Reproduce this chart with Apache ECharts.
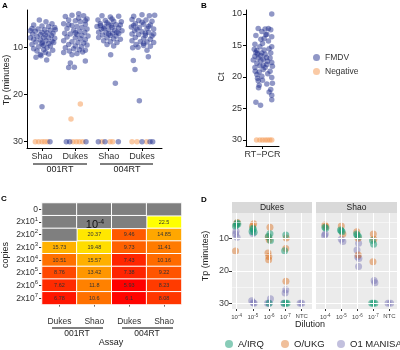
<!DOCTYPE html>
<html>
<head>
<meta charset="utf-8">
<title>fmdv lamp</title>
<script src="https://cdn.jsdelivr.net/npm/echarts@6/dist/echarts.min.js"></script>
<style>html,body{margin:0;padding:0;background:#fff}#main{width:400px;height:350px}</style>
</head>
<body>
<div id="main"></div>
<script>
// ---- panel A : jitter offset from group centre, Tp value
const groupsA = ['Shao', 'Dukes', 'Shao', 'Dukes'];
const aShao001Pos = [[-0.08,4.2],[0.12,4.6],[0.3,5.0],[-0.25,5.3],[0.0,5.5],[0.2,5.6],[0.38,5.8],[-0.3,6.0],[-0.12,6.1],[0.08,6.3],[0.25,6.4],[-0.2,6.6],[0.0,6.8],[0.15,6.9],[0.33,7.0],[-0.28,7.2],[-0.05,7.3],[0.1,7.4],[0.28,7.5],[-0.15,7.7],[0.05,7.9],[0.2,8.0],[0.38,8.1],[-0.25,8.3],[-0.05,8.4],[0.12,8.6],[0.3,8.7],[-0.18,8.9],[0.0,9.0],[0.2,9.2],[-0.3,9.4],[0.05,9.6],[0.25,9.7],[-0.1,9.9],[0.15,10.1],[-0.25,10.3],[0.05,10.5],[0.32,10.6],[-0.15,10.8],[0.1,11.1],[-0.05,11.5],[0.2,11.4],[-0.18,12.1],[-0.03,11.8],[0.14,12.7],[0.0,9.3],[-0.35,8.0],[0.35,9.0],[0.4,6.3],[-0.35,6.5],[0.0,22.6],[0.24,30]];
const aShao001Neg = [[-0.2,30],[-0.1,30],[0.0,30],[0.08,30],[0.16,30]];
const aDukes001Pos = [[-0.3,3.5],[-0.1,3.2],[0.1,2.9],[0.25,3.3],[0.35,4.0],[-0.2,4.2],[0.0,4.4],[0.15,4.6],[-0.35,5.0],[0.3,5.1],[-0.1,5.4],[0.05,5.6],[0.2,5.8],[-0.25,6.0],[0.35,6.1],[-0.05,6.4],[0.12,6.6],[0.28,6.8],[-0.32,7.0],[-0.15,7.2],[0.05,7.3],[0.2,7.5],[0.38,7.6],[-0.25,7.8],[0.0,8.0],[0.15,8.2],[0.3,8.4],[-0.35,8.6],[-0.1,8.8],[0.08,9.0],[0.25,9.1],[-0.2,9.4],[0.35,9.5],[0.0,9.7],[0.18,9.9],[-0.3,10.1],[-0.05,10.3],[0.12,10.5],[0.3,10.6],[-0.18,10.8],[0.22,11.0],[-0.35,11.1],[0.05,11.3],[-0.1,11.6],[0.0,6.9],[-0.2,5.2],[0.3,4.4],[0.1,3.8],[-0.15,13.3],[-0.2,14.3],[-0.03,14.2],[0.3,12.9],[-0.27,30],[-0.17,30],[0.32,30]];
const aDukes001Neg = [[-0.13,25.2],[0.15,22.0],[-0.07,30],[0.03,30],[0.12,30],[0.22,30]];
const aShao004Pos = [[-0.2,3.3],[0.05,3.6],[0.3,3.4],[-0.32,4.2],[-0.1,4.3],[0.15,4.5],[0.38,4.6],[-0.25,5.0],[0.0,5.1],[0.22,5.2],[-0.35,5.6],[-0.12,5.7],[0.1,5.8],[0.3,5.9],[-0.22,6.2],[0.0,6.3],[0.18,6.4],[0.4,6.5],[-0.3,6.8],[-0.08,6.9],[0.12,7.0],[0.3,7.1],[-0.18,7.4],[0.05,7.5],[0.22,7.6],[-0.3,7.9],[-0.05,8.0],[0.15,8.2],[0.35,8.3],[-0.15,8.6],[0.05,8.8],[0.25,9.0],[-0.05,9.4],[0.15,9.7],[0.08,5.4],[-0.15,6.0],[0.25,6.8],[0.0,7.2],[-0.25,5.4],[0.35,5.3],[0.1,4.0],[-0.05,4.8],[0.06,11.6],[0.2,17.6],[-0.31,30],[-0.11,30],[0.29,30]];
const aShao004Neg = [[-0.2,30],[0.04,30],[0.12,30]];
const aDukes004Pos = [[-0.25,3.4],[0.0,3.1],[0.22,3.3],[0.38,3.2],[-0.3,4.1],[-0.1,4.3],[0.12,4.2],[0.3,4.5],[-0.2,5.0],[0.05,5.1],[0.25,5.3],[-0.32,5.7],[-0.08,5.8],[0.15,6.0],[0.35,6.1],[-0.22,6.5],[0.0,6.7],[0.2,6.8],[-0.3,7.2],[-0.1,7.3],[0.1,7.5],[0.3,7.6],[-0.2,7.9],[0.05,8.1],[0.25,8.3],[-0.3,8.6],[-0.05,8.8],[0.15,8.9],[0.35,9.0],[-0.18,9.4],[0.05,9.6],[0.25,9.8],[-0.28,10.1],[0.15,10.6],[-0.12,10.0],[0.0,4.7],[0.2,5.6],[-0.15,6.2],[0.1,7.0],[-0.25,5.4],[0.35,7.2],[0.05,9.2],[-0.26,12.8],[-0.21,14.7],[0.19,12.0],[-0.08,21.3],[0.0,30],[0.24,30],[0.32,30]];
const aDukes004Neg = [[-0.3,30],[-0.15,30],[0.14,30]];

// ---- panel B : x jitter (0..1), Ct
const bFmdv = [[0.78,10.0],[0.37,12.3],[0.48,12.8],[0.58,12.4],[0.68,12.3],[0.75,12.5],[0.3,13.4],[0.63,13.2],[0.78,13.6],[0.55,13.9],[0.68,14.3],[0.27,14.8],[0.42,15.2],[0.78,15.2],[0.33,15.8],[0.48,16.2],[0.58,16.4],[0.27,16.7],[0.37,17.0],[0.52,17.2],[0.73,17.0],[0.78,17.7],[0.33,17.8],[0.42,18.2],[0.63,18.0],[0.27,18.5],[0.52,18.8],[0.73,19.1],[0.33,19.6],[0.48,19.9],[0.78,20.1],[0.37,20.6],[0.63,21.1],[0.75,22.0],[0.7,22.4],[0.78,22.9],[0.78,23.6],[0.3,24.0],[0.44,24.5],[0.4,21.3],[0.38,21.7],[0.25,15.6],[0.35,16.3],[0.45,17.4],[0.55,15.7],[0.62,16.9],[0.7,15.5],[0.4,19.2],[0.28,19.1],[0.58,18.5],[0.66,19.5],[0.8,18.3],[0.5,14.7],[0.3,16.1],[0.44,16.6],[0.52,18.1],[0.75,16.2],[0.8,21.0],[0.35,20.2],[0.5,20.5],[0.6,13.3],[0.45,14.0],[0.65,17.5],[0.22,17.3]];
const bNeg = [[0.32,30],[0.42,30],[0.5,30],[0.58,30],[0.65,30],[0.72,30],[0.78,30]];

// ---- panel C : heatmap, rows 0, 2x10^1 .. 2x10^7 ; null = grey
const heatCols = ['Dukes', 'Shao', 'Dukes', 'Shao'];
const heatRows = ['0', '1', '2', '3', '4', '5', '6', '7'];
const heatDukes001 = [null, null, null, 15.73, 10.51, 8.76, 7.62, 6.78];
const heatShao001 = [null, null, 20.37, 19.48, 15.57, 13.42, 11.8, 10.6];
const heatDukes004 = [null, null, 9.46, 9.73, 7.43, 7.38, 5.93, 6.1];
const heatShao004 = [null, 22.5, 14.85, 11.41, 10.16, 9.22, 8.23, 8.08];

// ---- panel D : [dilution position (1..5 jittered), Tp]
const dilutions = ['-4', '-5', '-6', '-7', 'NTC'];
const dDukesIRQ = [[1.0,5.9],[0.93,6.2],[1.08,5.6],[1.03,5.3],[2.02,7.2],[1.95,7.9],[2.08,8.1],[2.0,6.9],[3.05,8.6],[2.95,9.4],[3.08,10.7],[4.02,9.0],[3.95,13.8],[3.92,30],[4.02,30],[4.1,30],[3.0,30]];
const dDukesUKG = [[1.05,5.1],[0.98,5.6],[0.94,13.9],[2.05,5.5],[1.98,6.3],[3.05,6.6],[2.95,9.6],[3.0,10.4],[2.93,14.5],[2.98,15.6],[2.97,16.6],[4.05,9.9],[4.02,13.1],[4.03,23.2]];
const dDukesMAN = [[0.97,7.8],[0.94,8.7],[1.03,9.7],[2.0,8.5],[1.93,29.2],[2.02,29.8],[2.08,30],[2.9,30],[3.0,30],[3.08,28.6],[4.02,25.8],[3.98,26.8],[3.9,30],[4.9,30],[5.0,30]];
const dShaoIRQ = [[1.03,6.9],[0.97,6.6],[1.95,7.4],[2.05,8.0],[2.0,7.7],[3.0,9.0],[3.08,9.5],[2.95,8.7],[3.95,10.7],[4.02,11.8],[3.9,30],[4.0,30],[4.1,30]];
const dShaoUKG = [[0.98,5.9],[1.04,6.4],[2.0,6.2],[2.1,8.7],[2.97,8.0],[3.05,10.0],[3.06,15.1],[4.0,8.7],[3.98,17.2],[4.03,10.3]];
const dShaoMAN = [[1.0,8.7],[0.95,9.1],[2.0,10.3],[2.1,11.0],[3.08,11.5],[2.98,13.6],[3.1,16.2],[3.02,15.7],[3.08,18.7],[4.05,23.0],[4.1,23.7],[4.92,30],[5.08,30]];

const FONT = 'Liberation Sans, Arial, sans-serif';
const BLUE = 'rgba(30,45,140,0.62)';
const ORANGE = 'rgba(246,160,95,0.7)';
const GREEN = 'rgba(27,158,119,0.65)';
const DORANGE = 'rgba(217,95,2,0.5)';
const PURPLE = 'rgba(117,112,179,0.55)';

function place(rows, centre) {
    return rows.map(p => [centre + p[0], p[1]]);
}

const sup = { fontSize: 6, fontFamily: FONT, color: '#333', verticalAlign: 'bottom', padding: [0, 0, 6, 0] };

let chart = echarts.init(document.getElementById('main'));

// group A points by category
const aPos = [aShao001Pos, aDukes001Pos, aShao004Pos, aDukes004Pos];
const aNeg = [aShao001Neg, aDukes001Neg, aShao004Neg, aDukes004Neg];
let aPosData = [], aNegData = [];
for (let i = 0; i < 4; i++) {
    aPosData = aPosData.concat(place(aPos[i], i + 1));
    aNegData = aNegData.concat(place(aNeg[i], i + 1));
}

// heatmap cells
const heatData = [], greyData = [];
[heatDukes001, heatShao001, heatDukes004, heatShao004].forEach((col, c) => {
    col.forEach((v, r) => {
        if (v === null) greyData.push([c, r, 0]);
        else heatData.push([c, r, v]);
    });
});

const classicAxis = { show: true, lineStyle: { color: '#000', width: 1 }, onZero: false };
const blackTick = { show: true, length: 3, lineStyle: { color: '#000' } };

function dXAxis(idx, min, max) {
    return {
        gridIndex: idx, type: 'value', min: min, max: max,
        axisLine: { show: false }, splitLine: { show: false },
        axisTick: { show: true, length: 2, lineStyle: { color: '#333' }, customValues: [1, 2, 3, 4, 5] },
        axisLabel: {
            customValues: [1, 2, 3, 4, 5], margin: 4,
            formatter: v => dilutions[v - 1] === 'NTC' ? '{n|NTC}' : '{n|10}{s|' + dilutions[v - 1] + '}',
            rich: { n: { fontSize: 6, fontFamily: FONT, color: '#444' }, s: { fontSize: 4.5, fontFamily: FONT, color: '#444', verticalAlign: 'bottom', padding: [0, 0, 4, 0] } }
        }
    };
}
function dYAxis(idx, labels) {
    return {
        gridIndex: idx, type: 'value', inverse: true, min: 2.2, max: 31.75,
        axisLine: { show: false }, splitLine: { show: false },
        axisTick: { show: labels, length: 3, lineStyle: { color: '#333' }, customValues: [10, 20, 30] },
        axisLabel: { show: labels, customValues: [10, 20, 30], fontSize: 9, color: '#444', fontFamily: FONT, margin: 3 }
    };
}
function gridLines(xi) {
    return {
        type: 'scatter', xAxisIndex: xi, yAxisIndex: xi, data: [], z: 1, silent: true,
        markLine: {
            silent: true, symbol: ['none', 'none'], animation: false, label: { show: false },
            lineStyle: { color: '#fff', type: 'solid', width: 1 },
            data: [
                { yAxis: 5, lineStyle: { width: 0.5 } }, { yAxis: 15, lineStyle: { width: 0.5 } }, { yAxis: 25, lineStyle: { width: 0.5 } },
                { yAxis: 10 }, { yAxis: 20 }, { yAxis: 30 },
                { xAxis: 1 }, { xAxis: 2 }, { xAxis: 3 }, { xAxis: 4 }, { xAxis: 5 }
            ]
        }
    };
}
function dSeries(name, data, color, xi) {
    return { name: name, type: 'scatter', xAxisIndex: xi, yAxisIndex: xi, data: data, symbolSize: 7, z: 3, itemStyle: { color: color } };
}
function dLegend(name, left) {
    return {
        data: [name], left: left, top: 339, padding: 0, itemWidth: 8, itemHeight: 8, icon: 'circle', selectedMode: false,
        textStyle: { fontSize: 9.5, color: '#222', fontFamily: FONT }
    };
}

const option = {
    animation: false,
    textStyle: { fontFamily: FONT },
    grid: [
        { left: 27, top: 10, width: 135, height: 138 },
        { left: 246, top: 10, width: 33, height: 136 },
        { left: 42, top: 203, width: 139.5, height: 101.5 },
        { left: 232, top: 213, width: 80, height: 96, show: true, backgroundColor: '#ebebeb', borderWidth: 0 },
        { left: 316, top: 213, width: 81, height: 96, show: true, backgroundColor: '#ebebeb', borderWidth: 0 }
    ],
    xAxis: [
        {
            gridIndex: 0, type: 'value', min: 0.55, max: 4.6, axisLine: classicAxis, splitLine: { show: false },
            axisTick: Object.assign({ customValues: [1, 2, 3, 4] }, blackTick),
            axisLabel: { customValues: [1, 2, 3, 4], formatter: v => groupsA[v - 1], fontSize: 9, color: '#333', margin: 4 }
        },
        {
            gridIndex: 1, type: 'value', min: 0, max: 1, axisLine: classicAxis, splitLine: { show: false },
            axisTick: Object.assign({ customValues: [0.5] }, blackTick),
            axisLabel: { customValues: [0.5], formatter: () => 'RT\u2212PCR', fontSize: 9, color: '#333', margin: 4 }
        },
        {
            gridIndex: 2, type: 'category', data: heatCols.map((c, i) => String(i)),
            axisLine: { show: false }, splitLine: { show: false },
            axisTick: { show: true, alignWithLabel: true, length: 2, lineStyle: { color: '#333' } },
            axisLabel: { interval: 0, formatter: v => heatCols[+v], fontSize: 8.5, color: '#333', margin: 13 }
        },
        dXAxis(3, 0.72, 5.63),
        dXAxis(4, 0.42, 5.48)
    ],
    yAxis: [
        {
            gridIndex: 0, type: 'value', inverse: true, min: 2.1, max: 31.33, axisLine: classicAxis, splitLine: { show: false },
            axisTick: Object.assign({ customValues: [10, 20, 30] }, blackTick),
            axisLabel: { customValues: [10, 20, 30], fontSize: 9, color: '#333', margin: 4 }
        },
        {
            gridIndex: 1, type: 'value', inverse: true, min: 9.37, max: 30.95, axisLine: classicAxis, splitLine: { show: false },
            axisTick: Object.assign({ customValues: [10, 15, 20, 25, 30] }, blackTick),
            axisLabel: { customValues: [10, 15, 20, 25, 30], fontSize: 9, color: '#333', margin: 4 }
        },
        {
            gridIndex: 2, type: 'category', inverse: true, data: heatRows,
            axisLine: { show: false }, splitLine: { show: false },
            axisTick: { show: true, interval: 0, alignWithLabel: true, length: 3, lineStyle: { color: '#333' } },
            axisLabel: {
                interval: 0, margin: 4,
                formatter: v => v === '0' ? '{b|0}' : '{b|2x10}{s|' + v + '}',
                rich: { b: { fontSize: 8.5, fontFamily: FONT, color: '#333' }, s: sup }
            }
        },
        dYAxis(3, true),
        dYAxis(4, false)
    ],
    visualMap: {
        type: 'continuous', show: false, seriesIndex: 6, dimension: 2, min: 5.93, max: 22.5,
        inRange: { color: ['#ff0000', '#ff6a00', '#ffa000', '#ffd000', '#ffff00'] }
    },
    legend: [
        {
            data: ['FMDV', 'Negative'], orient: 'vertical', left: 313, top: 53, padding: 0, itemWidth: 7, itemHeight: 7, itemGap: 5,
            icon: 'circle', textStyle: { fontSize: 8.5, color: '#333', fontFamily: FONT }, selectedMode: false
        },
        dLegend('A/IRQ', 225),
        dLegend('O/UKG', 281),
        dLegend('O1 MANISA', 337)
    ],
    series: [
        { name: 'Negative', type: 'scatter', xAxisIndex: 0, yAxisIndex: 0, data: aNegData, symbolSize: 5.5, itemStyle: { color: ORANGE } },
        { name: 'FMDV', type: 'scatter', xAxisIndex: 0, yAxisIndex: 0, data: aPosData, symbolSize: 5.5, itemStyle: { color: BLUE } },
        { name: 'FMDV', type: 'scatter', xAxisIndex: 1, yAxisIndex: 1, data: bFmdv, symbolSize: 5.5, itemStyle: { color: BLUE } },
        { name: 'Negative', type: 'scatter', xAxisIndex: 1, yAxisIndex: 1, data: bNeg, symbolSize: 5.5, itemStyle: { color: ORANGE } },
        gridLines(3),
        gridLines(4),
        {
            type: 'heatmap', xAxisIndex: 2, yAxisIndex: 2, data: heatData,
            itemStyle: { borderColor: '#fff', borderWidth: 1 },
            label: { show: true, formatter: p => p.value[2], fontSize: 5.5, color: '#333', fontFamily: FONT }
        },
        {
            type: 'heatmap', xAxisIndex: 2, yAxisIndex: 2, data: greyData,
            itemStyle: { color: '#7f7f7f', borderColor: '#fff', borderWidth: 1 }
        },
        dSeries('O1 MANISA', dDukesMAN, PURPLE, 3),
        dSeries('O/UKG', dDukesUKG, DORANGE, 3),
        dSeries('A/IRQ', dDukesIRQ, GREEN, 3),
        dSeries('O1 MANISA', dShaoMAN, PURPLE, 4),
        dSeries('O/UKG', dShaoUKG, DORANGE, 4),
        dSeries('A/IRQ', dShaoIRQ, GREEN, 4)
    ],
    graphic: [
        // panel letters
        { type: 'text', left: 2, top: 2, style: { text: 'A', font: 'bold 8px ' + FONT, fill: '#000' } },
        { type: 'text', left: 201, top: 2, style: { text: 'B', font: 'bold 8px ' + FONT, fill: '#000' } },
        { type: 'text', left: 1, top: 195, style: { text: 'C', font: 'bold 8px ' + FONT, fill: '#000' } },
        { type: 'text', left: 201, top: 196, style: { text: 'D', font: 'bold 8px ' + FONT, fill: '#000' } },
        // axis titles
        { type: 'text', x: 7, y: 80, rotation: Math.PI / 2, style: { text: 'Tp (minutes)', font: '9px ' + FONT, fill: '#222', align: 'center', verticalAlign: 'middle' } },
        { type: 'text', x: 222, y: 77, rotation: Math.PI / 2, style: { text: 'Ct', font: '9px ' + FONT, fill: '#222', align: 'center', verticalAlign: 'middle' } },
        { type: 'text', x: 6, y: 255, rotation: Math.PI / 2, style: { text: 'copies', font: '9px ' + FONT, fill: '#222', align: 'center', verticalAlign: 'middle' } },
        { type: 'text', x: 111, y: 343, style: { text: 'Assay', font: '9px ' + FONT, fill: '#222', align: 'center', verticalAlign: 'middle' } },
        { type: 'text', x: 206, y: 256, rotation: Math.PI / 2, style: { text: 'Tp (minutes)', font: '9px ' + FONT, fill: '#222', align: 'center', verticalAlign: 'middle' } },
        { type: 'text', x: 310, y: 325, style: { text: 'Dilution', font: '9px ' + FONT, fill: '#222', align: 'center', verticalAlign: 'middle' } },
        // assay group brackets, panel A
        { type: 'line', shape: { x1: 33, y1: 164, x2: 87, y2: 164 }, style: { stroke: '#000', lineWidth: 1 } },
        { type: 'line', shape: { x1: 100, y1: 164, x2: 153, y2: 164 }, style: { stroke: '#000', lineWidth: 1 } },
        { type: 'text', x: 60, y: 170, style: { text: '001RT', font: '9px ' + FONT, fill: '#222', align: 'center', verticalAlign: 'middle' } },
        { type: 'text', x: 127, y: 170, style: { text: '004RT', font: '9px ' + FONT, fill: '#222', align: 'center', verticalAlign: 'middle' } },
        // assay group brackets, panel C
        { type: 'line', shape: { x1: 52, y1: 328, x2: 103, y2: 328 }, style: { stroke: '#000', lineWidth: 1 } },
        { type: 'line', shape: { x1: 122, y1: 328, x2: 173, y2: 328 }, style: { stroke: '#000', lineWidth: 1 } },
        { type: 'text', x: 77, y: 334, style: { text: '001RT', font: '8.5px ' + FONT, fill: '#222', align: 'center', verticalAlign: 'middle' } },
        { type: 'text', x: 147, y: 334, style: { text: '004RT', font: '8.5px ' + FONT, fill: '#222', align: 'center', verticalAlign: 'middle' } },
        // limit of detection note
        {
            type: 'text', x: 95, y: 225, z: 100,
            style: { text: '{a|10}{b|-4}', align: 'center', verticalAlign: 'middle', rich: { a: { fontSize: 11, fontFamily: FONT, fill: '#111' }, b: { fontSize: 7, fontFamily: FONT, fill: '#111', verticalAlign: 'bottom', padding: [0, 0, 6, 0] } } }
        },
        // facet strips
        { type: 'rect', shape: { x: 232, y: 202, width: 80, height: 11 }, style: { fill: '#d9d9d9' } },
        { type: 'rect', shape: { x: 316, y: 202, width: 81, height: 11 }, style: { fill: '#d9d9d9' } },
        { type: 'text', x: 272, y: 207.5, style: { text: 'Dukes', font: '8.5px ' + FONT, fill: '#1a1a1a', align: 'center', verticalAlign: 'middle' } },
        { type: 'text', x: 356.5, y: 207.5, style: { text: 'Shao', font: '8.5px ' + FONT, fill: '#1a1a1a', align: 'center', verticalAlign: 'middle' } }
    ]
};
chart.setOption(option);
</script>
</body>
</html>
